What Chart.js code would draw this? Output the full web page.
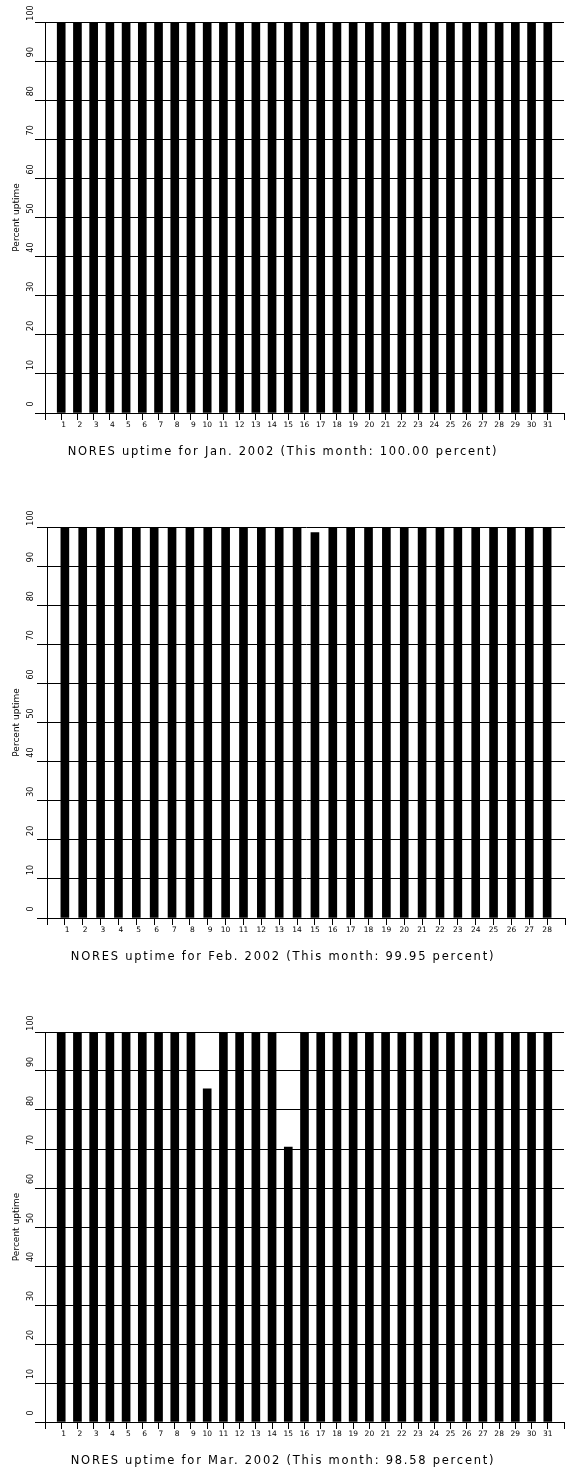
<!DOCTYPE html>
<html>
<head>
<meta charset="utf-8">
<title>NORES uptime, Jan.–Mar. 2002</title>
<script src="https://cdn.jsdelivr.net/npm/chart.js@4/dist/chart.umd.min.js"></script>
<style>
  html, body { margin: 0; padding: 0; background: #fff; }
  body { width: 568px; height: 1477px; position: relative; overflow: hidden; }
  canvas { position: absolute; left: 0; }
</style>
</head>
<body>
<canvas id="jan" width="568" height="505" style="top:0"></canvas>
<canvas id="feb" width="568" height="505" style="top:505px"></canvas>
<canvas id="mar" width="568" height="467" style="top:1010px"></canvas>
<script>
// Daily uptime (percent) per month
const janDays = [1,2,3,4,5,6,7,8,9,10,11,12,13,14,15,16,17,18,19,20,21,22,23,24,25,26,27,28,29,30,31];
const janUptime = [100,100,100,100,100,100,100,100,100,100,100,100,100,100,100,100,100,100,100,100,100,100,100,100,100,100,100,100,100,100,100];

const febDays = [1,2,3,4,5,6,7,8,9,10,11,12,13,14,15,16,17,18,19,20,21,22,23,24,25,26,27,28];
const febUptime = [100,100,100,100,100,100,100,100,100,100,100,100,100,100,98.6,100,100,100,100,100,100,100,100,100,100,100,100,100];

const marDays = [1,2,3,4,5,6,7,8,9,10,11,12,13,14,15,16,17,18,19,20,21,22,23,24,25,26,27,28,29,30,31];
const marUptime = [100,100,100,100,100,100,100,100,100,85.4,100,100,100,100,70.5,100,100,100,100,100,100,100,100,100,100,100,100,100,100,100,100];

const yTicks = [0,10,20,30,40,50,60,70,80,90,100];

const FONT = "'DejaVu Sans', 'Liberation Sans', sans-serif";

// Rotated y tick labels and the caption under each plot
const labelPlugin = {
  id: 'uptimeLabels',
  afterDraw(chart, args, opts) {
    const ctx = chart.ctx;
    const y = chart.scales.y;
    ctx.save();
    ctx.fillStyle = '#000';
    ctx.font = '8px ' + FONT;
    ctx.textAlign = 'center';
    ctx.textBaseline = 'middle';
    yTicks.forEach(v => {
      const py = y.getPixelForValue(v);
      ctx.save();
      ctx.translate(opts.labelX, py - 9);
      ctx.rotate(-Math.PI / 2);
      ctx.fillText(String(v), 0, 0);
      ctx.restore();
    });
    // caption
    ctx.font = '11.5px ' + FONT;
    ctx.letterSpacing = '1.75px';
    ctx.textAlign = 'center';
    ctx.fillText(opts.caption, opts.captionX, chart.chartArea.bottom + 39);
    ctx.restore();
  }
};

function monthAverage(vals) {
  return vals.reduce((a, b) => a + b, 0) / vals.length;
}

function drawMonth(id, monthName, days, uptime, o) {
  const caption = 'NORES uptime for ' + monthName + ' 2002 (This month: ' +
    monthAverage(uptime).toFixed(2) + ' percent)';
  const canvas = document.getElementById(id);
  const maxX = days.length + 1;
  new Chart(canvas, {
    type: 'bar',
    data: {
      datasets: [{
        data: days.map((d, i) => ({ x: d, y: uptime[i] })),
        backgroundColor: '#000',
        borderWidth: 0,
        barThickness: o.barWidth
      }]
    },
    options: {
      responsive: false,
      animation: false,
      events: [],
      layout: { padding: { top: 22, right: o.padRight, left: 0, bottom: 0 } },
      plugins: {
        legend: { display: false },
        tooltip: { enabled: false },
        uptimeLabels: { caption: caption, captionX: 283, labelX: 30.5 }
      },
      scales: {
        x: {
          type: 'linear',
          min: 0,
          max: maxX,
          offset: false,
          afterFit(s) { s.height = o.xHeight; },
          afterBuildTicks(s) {
            s.ticks = [];
            for (let i = 0; i <= maxX; i++) s.ticks.push({ value: i });
          },
          ticks: {
            autoSkip: false,
            maxRotation: 0,
            minRotation: 0,
            padding: 1,
            color: '#000',
            font: { family: FONT, size: 7.5 },
            callback(v) {
              if (v < 1 || v > days.length) return '';
              return String(v).padStart(2, '\u2007');
            }
          },
          grid: {
            offset: false,
            drawOnChartArea: false,
            drawTicks: true,
            tickLength: 7,
            color: '#000',
            lineWidth: 1
          },
          border: { display: true, color: '#000', width: 1 }
        },
        y: {
          min: 0,
          max: 100,
          position: 'left',
          afterFit(s) { s.width = o.yWidth; },
          ticks: { display: false, stepSize: 10 },
          grid: {
            drawTicks: true,
            tickLength: 10,
            color: '#000',
            lineWidth: 1
          },
          border: { display: true, color: '#000', width: 1 },
          title: {
            display: true,
            text: 'Percent uptime',
            color: '#000',
            font: { family: FONT, size: 9 },
            padding: { top: 11, bottom: 0 }
          }
        }
      }
    },
    plugins: [labelPlugin]
  });
}

drawMonth('jan', 'Jan.', janDays, janUptime, { barWidth: 8, padRight: 4, yWidth: 45, xHeight: 92 });
drawMonth('feb', 'Feb.', febDays, febUptime, { barWidth: 8, padRight: 3, yWidth: 47, xHeight: 92 });
drawMonth('mar', 'Mar.', marDays, marUptime, { barWidth: 8, padRight: 4, yWidth: 45, xHeight: 55 });
</script>
</body>
</html>
